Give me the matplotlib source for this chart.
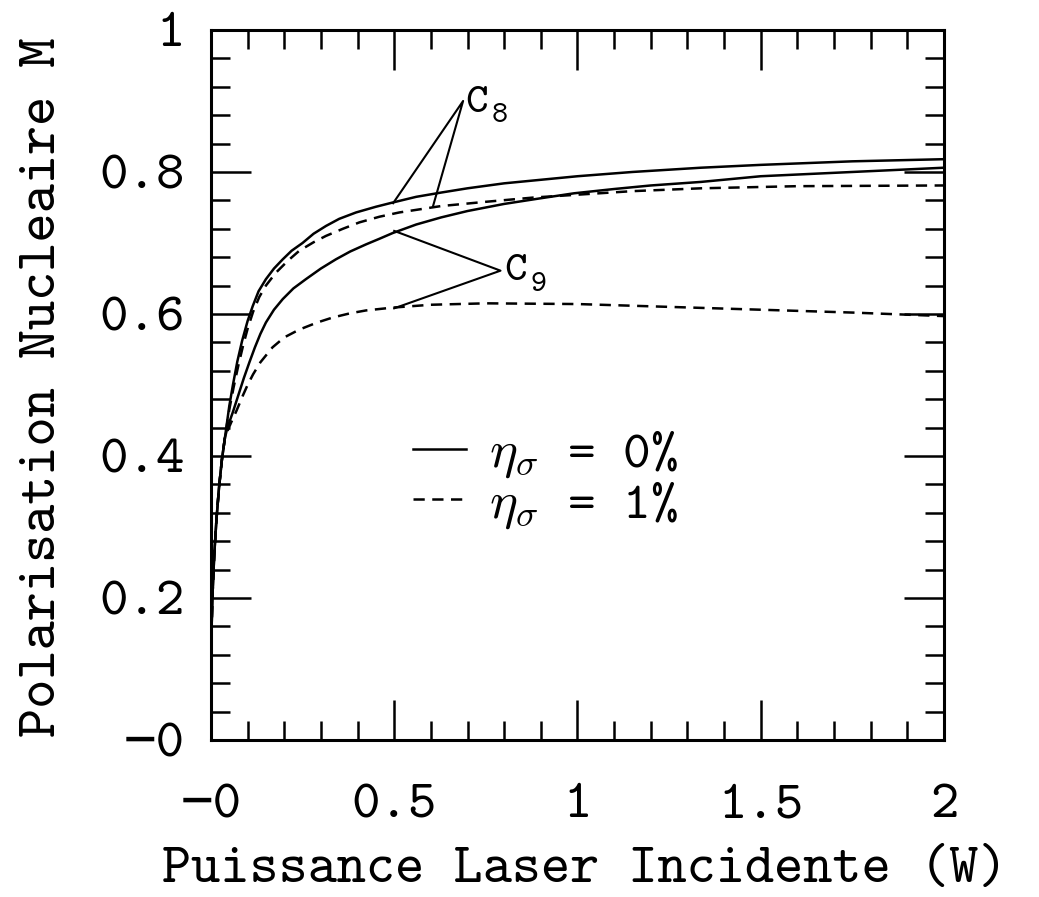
import numpy as np
import matplotlib
matplotlib.use('Agg')
import matplotlib.pyplot as plt
from matplotlib.ticker import MultipleLocator

# C8, eta_sigma = 0% (upper solid curve)
c8_solid_x = [0.0, 0.004, 0.009, 0.015, 0.022, 0.030, 0.038, 0.05, 0.06, 0.072, 0.085,
              0.1, 0.114, 0.13, 0.15, 0.172, 0.196, 0.22, 0.25, 0.28, 0.314, 0.35, 0.396,
              0.45, 0.496, 0.56, 0.628, 0.7, 0.8, 0.9, 1.0, 1.15, 1.337, 1.5, 1.75, 2.0]
c8_solid_y = [0.12, 0.20, 0.26, 0.31, 0.355, 0.395, 0.425, 0.47, 0.50, 0.533, 0.562,
              0.59, 0.611, 0.632, 0.649, 0.664, 0.677, 0.689, 0.700, 0.713, 0.724, 0.734, 0.743,
              0.751, 0.757, 0.765, 0.771, 0.777, 0.784, 0.789, 0.794, 0.800, 0.806, 0.810, 0.815, 0.818]

# C8, eta_sigma = 1% (upper dashed curve)
c8_dash_x = [0.0, 0.004, 0.009, 0.015, 0.022, 0.030, 0.038, 0.05, 0.062, 0.075, 0.088,
             0.1, 0.115, 0.132, 0.15, 0.177, 0.21, 0.241, 0.28, 0.314, 0.36, 0.405, 0.46,
             0.514, 0.628, 0.75, 0.88, 1.0, 1.15, 1.337, 1.6, 2.0]
c8_dash_y = [0.12, 0.20, 0.26, 0.31, 0.355, 0.395, 0.425, 0.465, 0.497, 0.528, 0.556,
             0.579, 0.603, 0.624, 0.64, 0.658, 0.675, 0.689, 0.701, 0.710, 0.720, 0.729, 0.737,
             0.743, 0.752, 0.758, 0.764, 0.768, 0.773, 0.777, 0.780, 0.781]

# C9, eta_sigma = 0% (lower solid curve)
c9_solid_x = [0.0, 0.004, 0.009, 0.015, 0.022, 0.030, 0.038, 0.045, 0.06, 0.075, 0.09,
              0.105, 0.12, 0.135, 0.15, 0.172, 0.196, 0.225, 0.259, 0.3, 0.341, 0.38, 0.423,
              0.46, 0.496, 0.56, 0.628, 0.7, 0.8, 0.9, 0.991, 1.1, 1.2, 1.337, 1.5, 1.75, 2.0]
c9_solid_y = [0.12, 0.20, 0.26, 0.31, 0.355, 0.395, 0.425, 0.44, 0.462, 0.486, 0.51,
              0.532, 0.553, 0.572, 0.588, 0.606, 0.621, 0.636, 0.649, 0.664, 0.677, 0.688, 0.698,
              0.706, 0.714, 0.726, 0.736, 0.745, 0.755, 0.763, 0.770, 0.776, 0.781, 0.786, 0.794, 0.800, 0.806]

# C9, eta_sigma = 1% (lower dashed curve)
c9_dash_x = [0.0, 0.004, 0.009, 0.015, 0.022, 0.030, 0.038, 0.045, 0.055, 0.07, 0.087,
             0.1, 0.115, 0.135, 0.168, 0.2, 0.241, 0.29, 0.332, 0.38, 0.423, 0.496, 0.6,
             0.75, 1.0, 1.25, 1.5, 1.75, 2.0]
c9_dash_y = [0.12, 0.20, 0.26, 0.31, 0.355, 0.395, 0.425, 0.435, 0.447, 0.464, 0.485,
             0.50, 0.515, 0.532, 0.553, 0.567, 0.578, 0.588, 0.595, 0.601, 0.605, 0.609, 0.613,
             0.615, 0.614, 0.610, 0.606, 0.602, 0.597]

x_ticks = [0, 0.5, 1, 1.5, 2]
x_tick_labels = ['\u22120', '0.5', '1', '1.5', '2']
y_ticks = [0, 0.2, 0.4, 0.6, 0.8, 1]
y_tick_labels = ['\u22120', '0.2', '0.4', '0.6', '0.8', '1']

plt.rcParams['font.family'] = ['cmtt10', 'DejaVu Sans Mono']
plt.rcParams['mathtext.fontset'] = 'cm'

fig = plt.figure(figsize=(10.39, 8.97), dpi=100)
ax = fig.add_axes([0.203, 0.175, 0.7056, 0.7916])

lw = 1.8
dash = (4.5, 3)
ax.plot(c8_solid_x, c8_solid_y, color='black', lw=lw, label=r'$\eta_\sigma$ = 0%')
ax.plot(c8_dash_x, c8_dash_y, color='black', lw=lw, dashes=dash, label=r'$\eta_\sigma$ = 1%')
ax.plot(c9_solid_x, c9_solid_y, color='black', lw=lw)
ax.plot(c9_dash_x, c9_dash_y, color='black', lw=lw, dashes=dash)

ax.set_xlim(0, 2)
ax.set_ylim(0, 1)

# curve labels with pointer lines
ax.plot([0.497, 0.688, 0.606], [0.756, 0.90, 0.752], color='black', lw=1.5)
ax.plot([0.50, 0.79, 0.50], [0.717, 0.661, 0.608], color='black', lw=1.5)
ax.text(0.695, 0.885, 'C', fontsize=31, ha='left', va='baseline')
ax.text(0.765, 0.870, '8', fontsize=22, ha='left', va='baseline')
ax.text(0.80, 0.648, 'C', fontsize=31, ha='left', va='baseline')
ax.text(0.872, 0.633, '9', fontsize=22, ha='left', va='baseline')

leg = ax.legend(loc='upper left', bbox_to_anchor=(0.2756, 0.437), frameon=False,
                fontsize=38, handlelength=1.0, handletextpad=0.45, labelspacing=0.0,
                borderpad=0.0, borderaxespad=0.0)

ax.set_xticks(x_ticks, labels=x_tick_labels)
ax.set_yticks(y_ticks, labels=y_tick_labels)
ax.xaxis.set_minor_locator(MultipleLocator(0.1))
ax.yaxis.set_minor_locator(MultipleLocator(0.04))
ax.tick_params(which='both', direction='in', top=True, right=True, width=1.8)
ax.tick_params(which='major', length=29)
ax.tick_params(which='minor', length=14)
ax.tick_params(axis='x', which='major', labelsize=39, pad=32)
ax.tick_params(axis='y', which='major', labelsize=39, pad=19)
for s in ax.spines.values():
    s.set_linewidth(2.2)

ax.set_xlabel('Puissance Laser Incidente (W)', fontsize=40)
ax.set_ylabel('Polarisation Nucleaire M', fontsize=40)
ax.xaxis.set_label_coords(0.510, -0.150)
ax.yaxis.set_label_coords(-0.195, 0.497)

fig.savefig('out.png', dpi=100)
